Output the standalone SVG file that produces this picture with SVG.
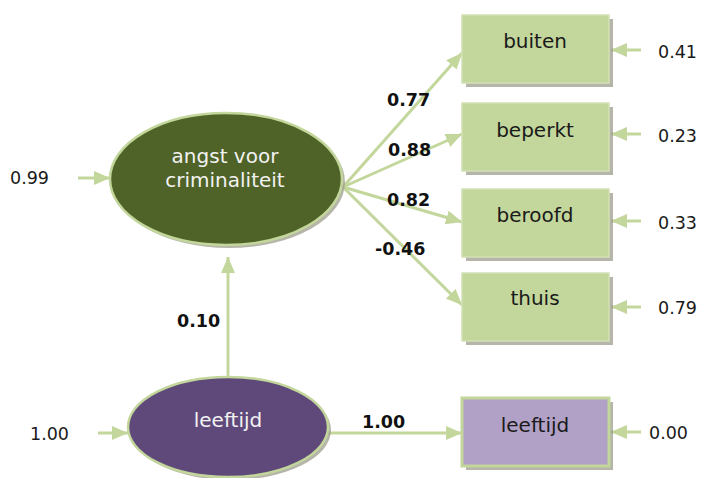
<svg xmlns="http://www.w3.org/2000/svg" width="703" height="478" viewBox="0 0 703 478">
<defs>
<marker id="ah" viewBox="0 0 16 14" refX="16" refY="7" markerWidth="16" markerHeight="14" markerUnits="userSpaceOnUse" orient="auto">
<path d="M0,0 L16,7 L0,14 z" fill="#c3d69b"/>
</marker>
</defs>
<style>
.conn{stroke:#c3d69b;stroke-width:3;fill:none;marker-end:url(#ah)}
.box{fill:#c3d69b;stroke:#d3e1b5;stroke-width:1.5}
.shadow{fill:#9c9c8c;opacity:0.75}
.nt{font-family:"DejaVu Sans",Verdana,sans-serif;font-size:20px;text-anchor:middle;fill:#1a1a1a}
.nw{font-family:"DejaVu Sans",Verdana,sans-serif;font-size:20px;text-anchor:middle;fill:#f2f2f2}
.num{font-family:"DejaVu Sans",Verdana,sans-serif;font-size:17.5px;fill:#1a1a1a}
.bl{font-family:"DejaVu Sans",Verdana,sans-serif;font-size:17.5px;font-weight:bold;fill:#111}
</style>
<rect width="703" height="478" fill="#ffffff"/>
<g id="connectors">
<line class="conn" x1="78" y1="178" x2="110" y2="178"/>
<line class="conn" x1="343" y1="187" x2="462" y2="53"/>
<line class="conn" x1="343" y1="187" x2="462" y2="134"/>
<line class="conn" x1="343" y1="187" x2="462" y2="222"/>
<line class="conn" x1="343" y1="187" x2="462" y2="305"/>
<line class="conn" x1="228" y1="378" x2="228" y2="257"/>
<line class="conn" x1="328" y1="433" x2="462" y2="433"/>
<line class="conn" x1="98" y1="433" x2="128" y2="433"/>
<line class="conn" x1="641" y1="50" x2="611" y2="50"/>
<line class="conn" x1="641" y1="134" x2="611" y2="134"/>
<line class="conn" x1="641" y1="221" x2="611" y2="221"/>
<line class="conn" x1="641" y1="307" x2="611" y2="307"/>
<line class="conn" x1="641" y1="432" x2="611" y2="432"/>
</g>
<g id="angst">
<ellipse class="shadow" cx="229" cy="182" rx="116" ry="66"/>
<ellipse cx="226" cy="179" rx="116" ry="66" fill="#4f6228" stroke="#c3d69b" stroke-width="2.5"/>
<text class="nw" x="225" y="163">angst voor</text>
<text class="nw" x="225" y="187">criminaliteit</text>
</g>
<g id="buiten">
<rect class="shadow" x="466" y="19" width="147" height="68"/>
<rect class="box" x="462" y="15" width="147" height="68"/>
<text class="nt" x="535" y="48">buiten</text>
</g>
<g id="beperkt">
<rect class="shadow" x="466" y="107" width="147" height="68"/>
<rect class="box" x="462" y="103" width="147" height="68"/>
<text class="nt" x="535" y="137">beperkt</text>
</g>
<g id="beroofd">
<rect class="shadow" x="466" y="193" width="147" height="68"/>
<rect class="box" x="462" y="189" width="147" height="68"/>
<text class="nt" x="535" y="222">beroofd</text>
</g>
<g id="thuis">
<rect class="shadow" x="466" y="277" width="147" height="68"/>
<rect class="box" x="462" y="273" width="147" height="68"/>
<text class="nt" x="535" y="305">thuis</text>
</g>
<g id="leeftijd_latent">
<ellipse class="shadow" cx="231" cy="430" rx="100" ry="50"/>
<ellipse cx="228" cy="427" rx="100" ry="50" fill="#5f497a" stroke="#c3d69b" stroke-width="2.5"/>
<text class="nw" x="228" y="427">leeftijd</text>
</g>
<g id="leeftijd_obs">
<rect class="shadow" x="466" y="402" width="147" height="68"/>
<rect x="462" y="398" width="147" height="68" fill="#b2a1c7" stroke="#c3d69b" stroke-width="3"/>
<text class="nt" x="535" y="432">leeftijd</text>
</g>
<g id="labels">
<text class="num" x="10" y="184">0.99</text>
<text class="num" x="30" y="440">1.00</text>
<text class="num" x="658" y="58">0.41</text>
<text class="num" x="658" y="142">0.23</text>
<text class="num" x="658" y="229">0.33</text>
<text class="num" x="658" y="314">0.79</text>
<text class="num" x="649" y="439">0.00</text>
<text class="bl" x="387" y="106">0.77</text>
<text class="bl" x="388" y="156">0.88</text>
<text class="bl" x="387" y="206">0.82</text>
<text class="bl" x="375" y="255">-0.46</text>
<text class="bl" x="177" y="327">0.10</text>
<text class="bl" x="362" y="428">1.00</text>
</g>
</svg>
